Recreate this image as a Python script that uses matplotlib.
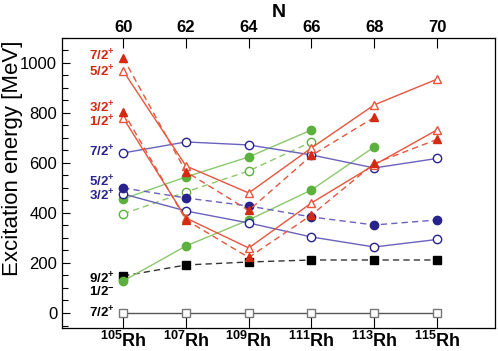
import matplotlib
matplotlib.use("Agg")
import matplotlib.pyplot as plt
import numpy as np
from matplotlib.ticker import MultipleLocator

plt.rcParams['font.family'] = ['Liberation Sans', 'DejaVu Sans']
plt.rcParams['mathtext.fontset'] = 'custom'
plt.rcParams['mathtext.rm'] = 'Liberation Sans'
plt.rcParams['mathtext.bf'] = 'Liberation Sans:bold'
plt.rcParams['mathtext.default'] = 'bf'

nan = np.nan
N = [60, 62, 64, 66, 68, 70]
isotopes = ['105', '107', '109', '111', '113', '115']

# red, positive parity
red_52 = [968, 588, 480, 660, 832, 935]      # open, solid
red_72 = [1020, 565, 410, 630, 782, nan]     # filled, dashed
red_12 = [780, 380, 260, 440, 592, 732]      # open, solid
red_32 = [805, 372, 222, 392, 598, 694]      # filled, dashed
# blue
blue_72 = [640, 684, 672, 632, 580, 618]     # open, solid
blue_52 = [500, 460, 428, 384, 352, 372]     # filled, dashed
blue_32 = [476, 408, 360, 304, 264, 294]     # open, solid
# green
green_a = [456, 544, 624, 732, nan, nan]     # filled, solid
green_b = [396, 484, 568, 684, nan, nan]     # open, dashed
green_c = [128, 268, 372, 492, 664, nan]     # filled, solid
# black / gray
black_92 = [148, 192, 204, 212, 212, 212]    # filled squares, dashed
ground = [0, 0, 0, 0, 0, 0]                  # open squares

labels = [('7/2$^{+}$', 1026, 'red'), ('5/2$^{+}$', 964, 'red'),
          ('3/2$^{+}$', 820, 'red'), ('1/2$^{+}$', 764, 'red'),
          ('7/2$^{+}$', 642, 'blue'), ('5/2$^{+}$', 526, 'blue'),
          ('3/2$^{+}$', 468, 'blue'), ('9/2$^{+}$', 138, 'black'),
          ('1/2$^{-}$', 82, 'black'), ('7/2$^{+}$', 2, 'black')]

c_red_line, c_red = '#e8553c', '#d42a12'
c_blue_line, c_blue = '#6a62bc', '#28228c'
c_green_line, c_green = '#8cc86c', '#5cb03c'
txt_col = {'red': '#d02a10', 'blue': '#2a2490', 'black': 'black'}

fig = plt.figure(figsize=(4.98, 3.51), dpi=100)
ax = fig.add_axes([0.1245, 0.0655, 0.8695, 0.8265])

dash = (0, (4.5, 3))
ms = 6

def series(y, lc, mc, marker, filled, ls):
    ax.plot(N, y, color=lc, lw=1.0, linestyle=ls, marker=marker, ms=ms,
            markerfacecolor=mc if filled else 'white', markeredgecolor=mc,
            markeredgewidth=1.0)

series(ground, '#555555', '#777777', 's', False, '-')
series(black_92, '#333333', 'black', 's', True, dash)
series(green_c, c_green_line, c_green, 'o', True, '-')
series(green_b, c_green_line, c_green, 'o', False, dash)
series(green_a, c_green_line, c_green, 'o', True, '-')
series(blue_32, c_blue_line, c_blue, 'o', False, '-')
series(blue_52, c_blue_line, c_blue, 'o', True, dash)
series(blue_72, c_blue_line, c_blue, 'o', False, '-')
series(red_12, c_red_line, c_red_line, '^', False, '-')
series(red_32, c_red_line, c_red, '^', True, dash)
series(red_52, c_red_line, c_red_line, '^', False, '-')
series(red_72, c_red_line, c_red, '^', True, dash)

for txt, y, c in labels:
    ax.text(59.74, y, txt, ha='right', va='center', fontsize=9.5,
            fontweight='bold', color=txt_col[c])

ax.set_xlim(58.05, 71.85)
ax.set_ylim(-60, 1100)
ax.set_xticks(N)
ax.set_xticklabels(['$^{%s}$Rh' % s for s in isotopes], fontsize=13,
                   fontweight='bold')
ax.yaxis.set_major_locator(MultipleLocator(200))
ax.yaxis.set_minor_locator(MultipleLocator(50))
ax.tick_params(axis='y', direction='in', length=6, width=0.8, labelsize=12, right=False)
ax.tick_params(axis='y', which='minor', direction='in', length=4, width=0.8)
ax.tick_params(axis='x', direction='in', length=13, width=0.8, pad=2)
for s in ax.spines.values():
    s.set_color('#555555')
    s.set_linewidth(0.9)

fig.text(0.004, 0.55, 'Excitation energy [MeV]', rotation=90, fontsize=16,
         ha='left', va='center')

top = ax.twiny()
top.set_xlim(ax.get_xlim())
top.set_xticks(N)
top.set_xticklabels([str(n) for n in N], fontsize=12, fontweight='bold')
top.tick_params(axis='x', direction='in', length=7, width=0.8, pad=2)
top.set_xlabel('N', fontsize=14, fontweight='bold', labelpad=2)

fig.savefig('out.png', dpi=100)
